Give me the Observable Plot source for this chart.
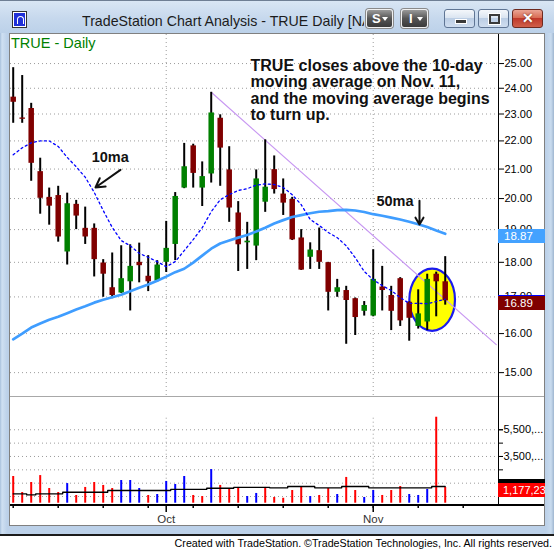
<!DOCTYPE html>
<html><head><meta charset="utf-8">
<script src="https://cdn.jsdelivr.net/npm/d3@7"></script>
<script src="https://cdn.jsdelivr.net/npm/@observablehq/plot@0.6"></script>
<style>
html,body{margin:0;padding:0;}
body{width:554px;height:549px;overflow:hidden;background:#fff;position:relative;font-family:'Liberation Sans',Arial,sans-serif;}
.a{position:absolute;}
.dk{position:absolute;top:9px;height:19px;width:27px;border-radius:3px;box-sizing:border-box;background:linear-gradient(#9a9a9a,#555 50%,#3a3a3a);border:1px solid #f0f0f0;box-shadow:0 0 0 1px #8a8a8a;color:#fff;font:bold 13px 'Liberation Sans',Arial,sans-serif;}
.dk span{position:absolute;left:5px;top:1px;line-height:15px;}
.dk b{position:absolute;right:4px;top:7px;width:0;height:0;border-left:3px solid transparent;border-right:3px solid transparent;border-top:4px solid #fff;}
.cap{position:absolute;top:9px;height:19px;width:31px;border-radius:3px;box-sizing:border-box;background:linear-gradient(#f4f7fb,#dbe5f1 45%,#bccee5 50%,#d0def0);border:1px solid #5f7594;}
.lbl{position:absolute;left:498px;width:47px;height:14px;color:#fff;font:11.5px 'Liberation Sans',Arial,sans-serif;line-height:14px;padding-left:6px;box-sizing:border-box;overflow:hidden;white-space:nowrap;}
</style></head><body>
<script>
// ---------- data ----------
const opens  = [23.65,22.85,23.21,20.91,20.04,20.10,18.31,19.81,19.04,19.04,17.98,17.26,17.11,17.43,18.00,17.59,17.45,18.00,18.54,20.35,21.82,20.35,20.83,22.84,20.97,19.53,18.59,18.49,19.88,20.98,20.15,19.97,18.74,18.15,18.35,17.99,17.13,17.18,16.95,16.60,16.47,17.28,17.04,17.52,16.85,16.19,16.31,17.65,17.43];
const highs  = [24.83,24.51,23.41,21.38,20.35,20.41,20.18,19.94,19.72,19.18,18.08,18.28,18.50,18.53,18.58,18.20,18.05,19.26,20.20,21.91,21.88,21.25,23.84,22.97,21.79,19.90,19.23,20.97,22.04,21.46,20.66,20.04,19.00,18.59,19.05,18.00,17.50,17.30,16.97,16.87,18.38,17.88,17.30,17.55,16.86,17.20,17.65,17.71,18.17];
const lows   = [22.65,22.65,20.58,19.49,19.14,18.61,17.92,19.00,18.54,17.57,16.99,16.95,17.10,16.61,17.40,17.15,17.42,17.70,18.05,20.33,20.35,19.74,20.52,20.41,19.23,17.73,17.79,18.05,19.55,20.15,19.45,18.66,17.76,17.79,17.79,16.61,16.99,15.72,15.95,16.47,16.45,16.61,16.08,16.19,15.80,16.12,16.08,16.45,16.77];
const closes = [23.45,22.80,21.20,20.01,19.75,18.77,19.83,19.43,18.77,18.08,17.65,17.04,17.52,17.88,17.90,17.43,17.92,18.42,20.07,21.08,20.85,20.74,23.04,21.74,19.69,18.53,18.64,20.66,20.38,20.30,19.85,18.68,17.77,18.37,18.00,17.13,17.26,16.90,16.43,16.76,17.50,17.18,16.60,16.34,16.41,16.53,17.50,17.43,16.89];
const ma10   = [21.50,21.75,21.93,22.00,22.00,21.80,21.41,21.08,20.72,20.21,19.61,19.07,18.66,18.50,18.27,18.15,18.02,17.87,18.02,18.35,18.69,19.06,19.57,19.96,20.13,20.27,20.33,20.45,20.49,20.47,20.37,20.13,19.80,19.32,19.13,18.91,18.75,18.50,18.14,17.73,17.49,17.32,17.18,16.98,16.82,16.82,16.81,16.87,16.94];
const ma50   = [15.85,16.00,16.16,16.27,16.37,16.45,16.55,16.65,16.74,16.84,16.92,16.99,17.06,17.16,17.26,17.35,17.46,17.58,17.71,17.81,17.99,18.20,18.41,18.57,18.66,18.75,18.83,18.94,19.06,19.19,19.30,19.40,19.46,19.52,19.57,19.59,19.62,19.63,19.61,19.56,19.49,19.44,19.38,19.32,19.25,19.17,19.08,18.97,18.87];
const volumes = [2.00,0.80,1.55,2.07,1.10,0.80,1.47,0.58,1.18,1.55,1.33,1.10,1.70,1.70,1.10,0.58,0.65,1.63,1.40,2.00,0.58,0.50,2.52,1.33,1.03,1.18,0.50,0.73,1.18,0.43,0.37,0.95,1.25,0.50,0.58,1.10,0.65,1.93,0.95,0.43,0.95,0.58,0.95,1.25,0.65,0.58,1.03,6.44,1.177234]; // millions
const volumeDir = "rrrrrrbrrrrrbbbrbbbbrrbrrrbbrrrrrbrrbrrbbrrrbbbrr".split("");
const volumeAvg = [0.70,0.70,0.62,0.70,0.70,0.70,0.82,0.82,0.82,0.82,0.82,0.95,0.95,0.95,0.95,0.95,0.95,0.95,1.03,1.03,1.03,1.03,1.12,1.12,1.12,1.18,1.18,1.18,1.18,1.15,1.15,1.25,1.25,1.25,1.15,1.15,1.15,1.25,1.25,1.25,1.15,1.15,1.15,1.15,1.15,1.15,1.15,1.25,1.25];
const priceTicks = [15,16,17,18,19,20,21,22,23,24,25];
const volTicks = [0.5,1.5,2.5,3.5,4.5,5.5];
const volLabelTicks = [1.5,3.5,5.5];
const weekTicks = [0,5,10,15,20,25,30,35,40,45,50];
const monthTicks = [17,40];
const monthNames = ["Oct","Nov"];
// annotations (bar index, price)
const trendIdx = [22, 53.67];
const trendPrice = [23.84, 15.71];
const circleIdx = [44.07, 49.14];
const circlePrice = [17.80, 16.06];
const noteText = "TRUE closes above the 10-day\nmoving average on Nov. 11,\nand the moving average begins\nto turn up.";
const noteIdx = 26.37, notePrice = 23.92;
const maLabels = ["10ma", "50ma"];
const maLabelIdx = [10.78, 42.42];
const maLabelPrice = [21.41, 19.90];
const arrowX1 = [11.92, 45.14], arrowY1 = [20.97, 19.93];
const arrowX2 = [9.14, 45.14],  arrowY2 = [20.37, 19.16];

// ---------- tables ----------
const bars = closes.map((c, i) => ({i, o: opens[i], h: highs[i], l: lows[i], c, up: c >= opens[i]}));
const ma10Data = ma10.map((v, i) => ({i, v}));
const ma50Data = ma50.map((v, i) => ({i, v}));
const trend = trendIdx.map((x, k) => ({x, y: trendPrice[k]}));
const labels = maLabels.map((t, k) => ({t, x: maLabelIdx[k], y: maLabelPrice[k]}));
const arrows = arrowX1.map((x, k) => ({x1: x, y1: arrowY1[k], x2: arrowX2[k], y2: arrowY2[k]}));
const vols = volumes.map((v, i) => ({i, v, col: volumeDir[i] === "b" ? "#0000ff" : "#ff0000"}));
const volAvg = volumeAvg.map((v, i) => ({i, v}));
const xDomain = [-0.3, 53.92];
const FONT = "'Liberation Sans', Arial, sans-serif";
const style = {fontFamily: FONT, fontSize: "11px", color: "#000", background: "transparent", overflow: "visible"};

let ellipseDrawn = false;
function makeEllipse(sx, sy) {
  const ns = "http://www.w3.org/2000/svg";
  const x1 = sx(circleIdx[0]), x2 = sx(circleIdx[1]), y1 = sy(circlePrice[0]), y2 = sy(circlePrice[1]);
  const e = document.createElementNS(ns, "ellipse");
  e.setAttribute("cx", (x1 + x2) / 2); e.setAttribute("cy", (y1 + y2) / 2);
  e.setAttribute("rx", Math.abs(x2 - x1) / 2); e.setAttribute("ry", Math.abs(y2 - y1) / 2);
  e.setAttribute("fill", "#ffff00"); e.setAttribute("stroke", "#1a1aee"); e.setAttribute("stroke-width", 2.2);
  return e;
}
function ellipseMark(index, scales) {
  if (!scales || typeof scales.x !== "function") return null;
  ellipseDrawn = true;
  return makeEllipse(scales.x, scales.y);
}

// ---------- window chrome ----------
document.body.insertAdjacentHTML("beforeend", `
<div class="a" style="left:0;top:0;width:554px;height:536px;background:linear-gradient(90deg,#a7c0dc 0,#cfe0f2 2px,#bcd1e9 7px,#bcd1e9 546px,#c9dbee 551px,#9fb6d0 554px);border-bottom:2px solid #1b1b1b;box-sizing:border-box;"></div>
<div class="a" style="left:0;top:0;width:554px;height:33px;background:linear-gradient(#d9e6f4,#c6d8ed 55%,#bcd1e9);border-top:1px solid #6f7f94;box-sizing:border-box"></div>
<div class="a" style="left:9px;top:33px;width:536px;height:493px;background:#fff;border:1px solid #808080;box-sizing:border-box"></div>
<div class="a" style="left:13px;top:12px;width:13px;height:15px;background:#1f30d8;border:1px solid #fff;box-shadow:0 0 0 1px #333;box-sizing:border-box"><div class="a" style="left:3px;top:3px;width:5px;height:7px;border:1.5px solid #fff;border-radius:4px 4px 0 0;border-bottom:none"></div></div>
<div class="a" style="left:82px;top:12px;width:282px;overflow:hidden;white-space:nowrap;font:14.2px ${FONT};line-height:18px;color:#1c1c1c">TradeStation Chart Analysis - TRUE Daily [NASDAQ]</div>
<div class="dk" style="left:366px"><span>S</span><b></b></div>
<div class="dk" style="left:401px"><span style="left:7px">I</span><b></b></div>
<div class="cap" style="left:444px"><div class="a" style="left:10px;top:9px;width:10px;height:3px;background:#3a3a3a;border:1px solid #fff"></div></div>
<div class="cap" style="left:478px"><div class="a" style="left:10px;top:4px;width:7px;height:6px;border:2px solid #3a3a3a;outline:1px solid #fff"></div></div>
<div class="cap" style="left:512px;background:linear-gradient(#eaa595,#d96d55 45%,#c0392b 50%,#d0604a);border-color:#6e2a20"><div class="a" style="left:0;top:0;width:29px;text-align:center;color:#fff;font:bold 14px ${FONT};line-height:17px;text-shadow:0 0 2px #5a1a10">&#10005;</div></div>
<div class="a" style="left:11px;top:35px;font:14.5px ${FONT};line-height:17px;color:#008000">TRUE - Daily</div>
`);

// ---------- price panel ----------
const pricePlot = Plot.plot({
  width: 535, height: 362,
  marginLeft: 0, marginRight: 47, marginTop: 0, marginBottom: 0,
  x: {type: "linear", domain: xDomain, axis: null},
  y: {type: "log", domain: [14.42, 26.23]},
  style,
  marks: [
    Plot.ruleY(priceTicks, {stroke: "#9c9c9c", strokeDasharray: "1,3"}),
    Plot.ruleX(monthTicks, {stroke: "#9c9c9c", strokeDasharray: "1,3"}),
    ellipseMark,
    Plot.line(trend, {x: "x", y: "y", stroke: "#c898f2", strokeWidth: 1.2}),
    Plot.ruleX(bars, {x: "i", y1: "l", y2: "h", stroke: "#000", strokeWidth: 2}),
    Plot.ruleX(bars, {x: "i", y1: "o", y2: "c", stroke: d => d.up ? "#008000" : "#800000", strokeWidth: 5.5}),
    Plot.line(ma50Data, {x: "i", y: "v", stroke: "#3f9dff", strokeWidth: 2.7}),
    Plot.line(ma10Data, {x: "i", y: "v", stroke: "#0000ff", strokeWidth: 1.3, strokeDasharray: "2,3"}),
    Plot.arrow(arrows, {x1: "x1", y1: "y1", x2: "x2", y2: "y2", stroke: "#111", strokeWidth: 2, headLength: 10}),
    Plot.text(labels, {x: "x", y: "y", text: "t", fontSize: 14.5, fontWeight: "bold", fill: "#111", textAnchor: "middle", lineAnchor: "middle"}),
    Plot.text([noteText], {x: () => noteIdx, y: () => notePrice, text: d => d, fontSize: 16, fontWeight: "bold", fill: "#111", textAnchor: "start", lineAnchor: "middle", lineHeight: 1.02}),
    Plot.axisY({anchor: "right", ticks: priceTicks, tickSize: 5, tickPadding: 1, tickFormat: d => d.toFixed(2), label: null, fontSize: 11})
  ]
});
const pWrap = document.createElement("div");
pWrap.className = "a"; pWrap.style.left = "10px"; pWrap.style.top = "34px";
pWrap.appendChild(pricePlot);
document.body.appendChild(pWrap);
if (!ellipseDrawn) {
  const svg = pricePlot.tagName.toLowerCase() === "svg" ? pricePlot : pricePlot.querySelector("svg");
  const gs = svg.querySelectorAll(":scope > g");
  const e = makeEllipse(v => pricePlot.scale("x").apply(v), v => pricePlot.scale("y").apply(v));
  svg.insertBefore(e, gs[2] || null);
}

// ---------- volume panel ----------
const volPlot = Plot.plot({
  width: 535, height: 128,
  marginLeft: 0, marginRight: 47, marginTop: 0, marginBottom: 20,
  x: {type: "linear", domain: xDomain},
  y: {domain: [-0.172, 7.918]},
  style,
  marks: [
    Plot.ruleY(volTicks, {stroke: "#9c9c9c", strokeDasharray: "1,3"}),
    Plot.ruleX(monthTicks, {y1: 0, y2: d3.max(volumes), stroke: "#9c9c9c", strokeDasharray: "1,3"}),
    Plot.ruleX(vols, {x: "i", y1: 0, y2: "v", stroke: "col", strokeWidth: 2}),
    Plot.line(volAvg, {x: "i", y: "v", curve: "step", stroke: "#000", strokeWidth: 1.3}),
    Plot.axisY({anchor: "right", ticks: volTicks, tickSize: 4, tickFormat: () => "", label: null}),
    Plot.axisY({anchor: "right", ticks: volLabelTicks, tickSize: 4, tickPadding: 1, tickFormat: d => d3.format(",")(d * 1000) + ",...", label: null, fontSize: 11}),
    Plot.axisX({anchor: "bottom", ticks: weekTicks, tickSize: 3, tickFormat: () => "", label: null, strokeWidth: 1.5}),
    Plot.axisX({anchor: "bottom", ticks: monthTicks, tickSize: 7, tickPadding: 2, tickFormat: d => monthNames[monthTicks.indexOf(d)], label: null, fontSize: 11.5, fill: "#333", strokeWidth: 1.5})
  ]
});
const vWrap = document.createElement("div");
vWrap.className = "a"; vWrap.style.left = "10px"; vWrap.style.top = "397px";
vWrap.appendChild(volPlot);
document.body.appendChild(vWrap);

// ---------- panel lines and value flags ----------
const py = v => 34 + pricePlot.scale("y").apply(v);
const vy = v => 397 + volPlot.scale("y").apply(v);
const lastClose = closes[closes.length - 1];
const lastMa50 = ma50[ma50.length - 1];
const lastMa10 = ma10[ma10.length - 1];
const lastVol = volumes[volumes.length - 1];
const lastVolAvg = volumeAvg[volumeAvg.length - 1];
document.body.insertAdjacentHTML("beforeend", `
<div class="a" style="left:10px;top:396px;width:534px;height:1px;background:#a8a8a8"></div>
<div class="a" style="left:498px;top:34px;width:1px;height:471px;background:#000"></div>
<div class="a" style="left:10px;top:504px;width:534px;height:2px;background:#000"></div>
<div class="lbl" style="top:${py(lastMa50) - 4}px;background:#44a2ff">${lastMa50.toFixed(2)}</div>
<div class="lbl" style="top:${py(lastMa10) - 4}px;background:#0000ff"></div>
<div class="lbl" style="top:${py(lastClose) - 4}px;background:#800000">${lastClose.toFixed(2)}</div>
<div class="lbl" style="top:${vy(lastVolAvg) - 7}px;background:#000"></div>
<div class="lbl" style="top:${vy(lastVol) - 4}px;background:#ff0000;font-size:11px;padding-left:5px">${d3.format(",")(Math.round(lastVol * 1e6))}</div>
<div class="a" style="right:2px;top:536px;font:10.7px ${FONT};line-height:14px;color:#000;white-space:nowrap">Created with TradeStation. ©TradeStation Technologies, Inc. All rights reserved.</div>
`);
</script>
</body></html>
